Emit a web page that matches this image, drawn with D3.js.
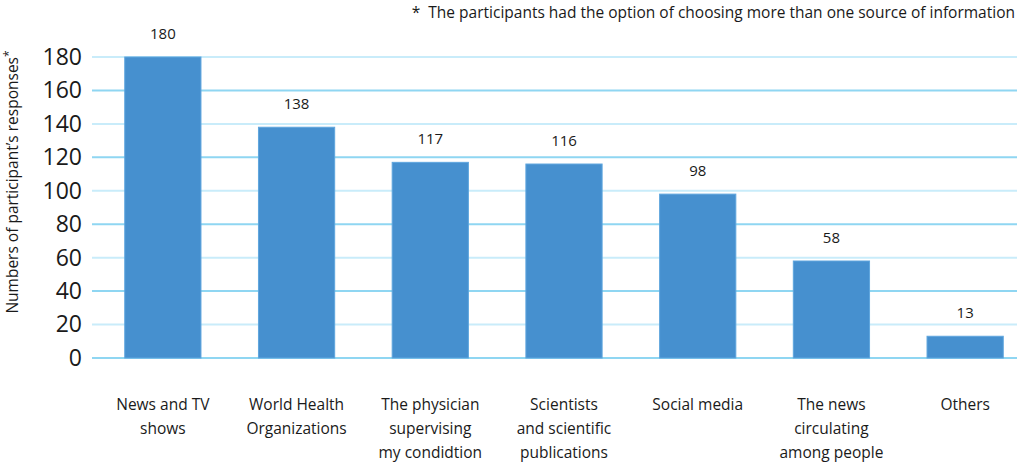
<!DOCTYPE html>
<html>
<head>
<meta charset="utf-8">
<script src="https://cdn.jsdelivr.net/npm/d3@7.9.0/dist/d3.min.js"></script>
<style>
  body { margin: 0; background: #fff; }
  text { font-family: "Open Sans", sans-serif; fill: #1a1a1a; }
</style>
</head>
<body>
<div id="chart"></div>
<script>
const categories = [
  ['News and TV', 'shows'],
  ['World Health', 'Organizations'],
  ['The physician', 'supervising', 'my condidtion'],
  ['Scientists', 'and scientific', 'publications'],
  ['Social media'],
  ['The news', 'circulating', 'among people'],
  ['Others']
];
const responses = [180, 138, 117, 116, 98, 58, 13];
const yTicks = [0, 20, 40, 60, 80, 100, 120, 140, 160, 180];

const width = 1021, height = 467;
const gridLeft = 92, gridRight = 1017;

const svg = d3.select('#chart').append('svg')
  .attr('width', width)
  .attr('height', height);

const x = d3.scaleBand()
  .domain(d3.range(categories.length))
  .range([96, 1032])
  .paddingInner(0.43)
  .paddingOuter(0.215);

const y = d3.scaleLinear().domain([0, 180]).range([358, 57]);

// gridlines, alternating light/dark like the original
svg.append('g')
  .selectAll('line')
  .data(yTicks)
  .join('line')
  .attr('x1', gridLeft)
  .attr('x2', gridRight)
  .attr('y1', d => y(d))
  .attr('y2', d => y(d))
  .attr('stroke', (d, i) => i % 2 === 0 ? '#8fd6f2' : '#c9ecfa')
  .attr('stroke-width', 2);

// y axis labels
const yAxis = svg.append('g')
  .attr('transform', `translate(84,0)`)
  .call(d3.axisLeft(y).tickValues(yTicks).tickSize(0).tickPadding(2));
yAxis.select('.domain').remove();
yAxis.selectAll('text')
  .style('font-family', '"Open Sans", sans-serif')
  .style('font-size', '23px')
  .attr('fill', '#1a1a1a');

// bars
svg.append('g')
  .selectAll('rect')
  .data(responses)
  .join('rect')
  .attr('x', (d, i) => x(i))
  .attr('width', x.bandwidth())
  .attr('y', d => y(d))
  .attr('height', d => y(0) - y(d))
  .attr('fill', '#4690cf')
  .attr('stroke', '#5fa6de')
  .attr('stroke-width', 1);

// value labels
svg.append('g')
  .selectAll('text')
  .data(responses)
  .join('text')
  .attr('x', (d, i) => x(i) + x.bandwidth() / 2)
  .attr('y', d => y(d) - 18)
  .attr('text-anchor', 'middle')
  .style('font-size', '15px')
  .text(d => d);

// category labels
const cat = svg.append('g')
  .selectAll('text')
  .data(categories)
  .join('text')
  .attr('x', (d, i) => x(i) + x.bandwidth() / 2)
  .attr('y', 410)
  .attr('text-anchor', 'middle')
  .style('font-size', '15.5px');
cat.selectAll('tspan')
  .data(d => d)
  .join('tspan')
  .attr('x', function () { return this.parentNode.getAttribute('x'); })
  .attr('dy', (d, i) => i === 0 ? 0 : 24)
  .text(d => d);

// y title
const title = svg.append('text')
  .attr('transform', 'translate(18,182) rotate(-90)')
  .attr('text-anchor', 'middle')
  .style('font-size', '15.5px');
title.append('tspan').text('Numbers of participant\u2019s responses');
title.append('tspan').attr('dy', -5).style('font-size', '12px').text('*');

// footnote
svg.append('text')
  .attr('x', 1015)
  .attr('y', 18)
  .attr('text-anchor', 'end')
  .style('font-size', '15.5px')
  .style('white-space', 'pre')
  .text('*  The participants had the option of choosing more than one source of information');
</script>
</body>
</html>
